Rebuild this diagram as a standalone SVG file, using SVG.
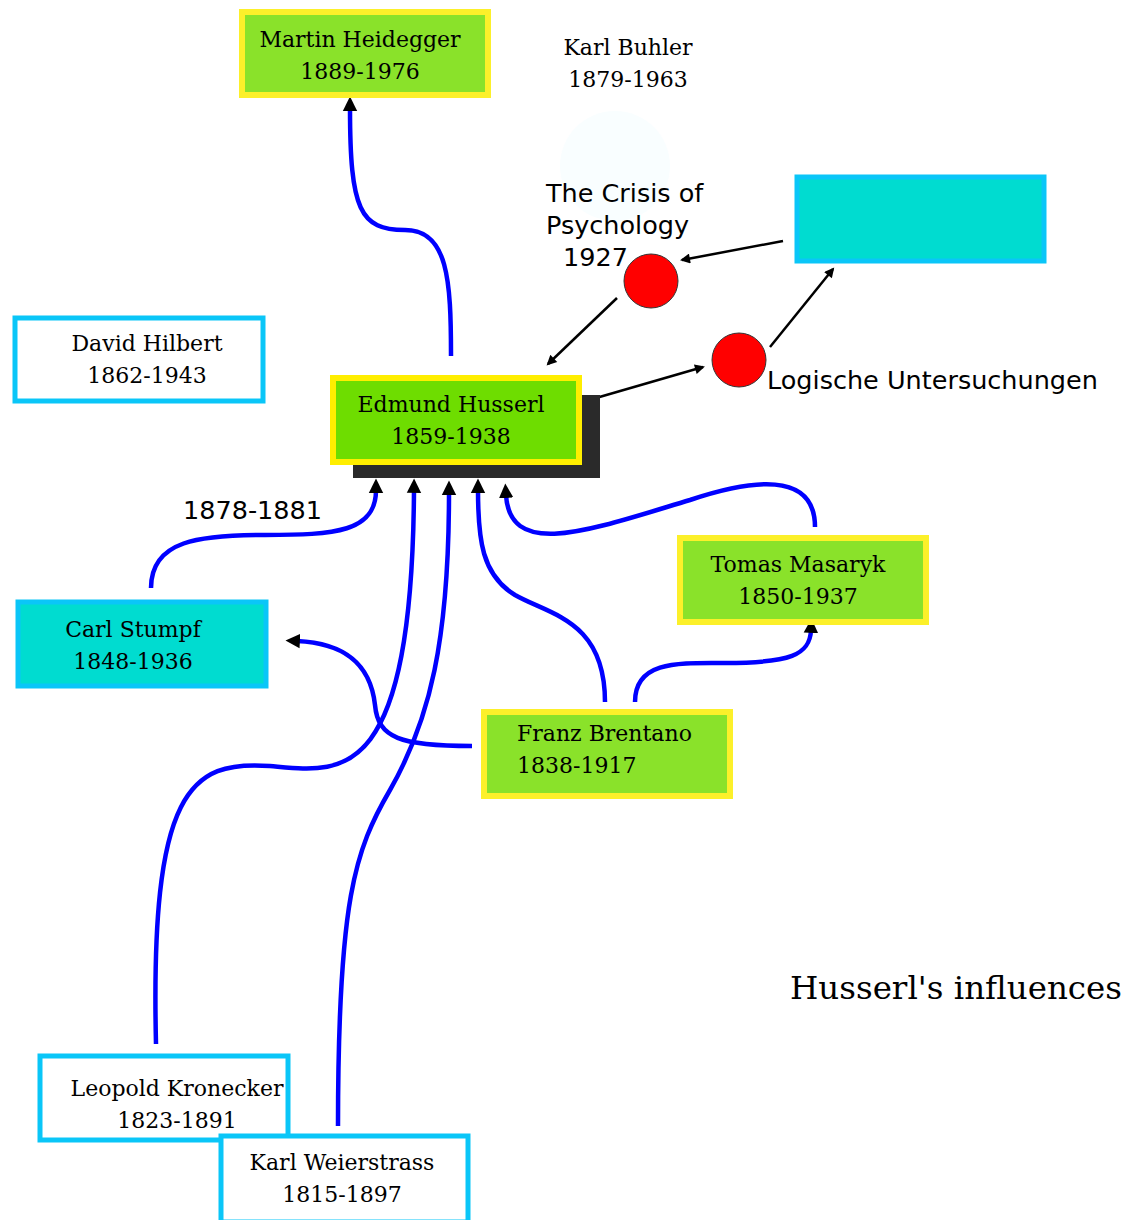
<svg xmlns="http://www.w3.org/2000/svg" width="1128" height="1220" viewBox="0 0 1128 1220">
<style>
.serif{font-family:"DejaVu Serif","Liberation Serif",serif;font-size:22px;fill:#000}
.sans{font-family:"DejaVu Sans","Liberation Sans",sans-serif;font-size:25.5px;fill:#000}
.g{fill:#8ae22a;stroke:#fcf02a;stroke-width:6}
.h{fill:#6edd00;stroke:#ffee00;stroke-width:6}
.c{fill:#00dcd0;stroke:#0ac6f8;stroke-width:5}
.w{fill:#fff;stroke:#0ac6f8;stroke-width:5}
.b{fill:none;stroke:#0000ff;stroke-width:4.5;marker-end:url(#ab)}
.k{fill:none;stroke:#000;stroke-width:2.5;marker-end:url(#ak)}
.r{fill:#ff0000;stroke:#333;stroke-width:1}
</style>
<defs>
<marker id="ab" viewBox="0 0 10 10" refX="2" refY="5" markerWidth="3.2" markerHeight="4" orient="auto" markerUnits="strokeWidth"><path d="M0,0 L10,5 L0,10 z" fill="#000"/></marker>
<marker id="ak" viewBox="0 0 10 10" refX="8" refY="5" markerWidth="5" markerHeight="4" orient="auto" markerUnits="strokeWidth"><path d="M0,0 L10,5 L0,10 z" fill="#000"/></marker>
</defs>
<rect width="1128" height="1220" fill="#fff"/>
<circle cx="615" cy="166" r="55" fill="#f9feff"/>
<g id="connectors">
<path class="b" d="M451,356 C451,280 448,230 405,230 C360,230 350,210 350,108"/>
<path class="b" d="M151,588 C151,540 200,535 265,535 C335,535 376,532 376,490"/>
<path class="b" d="M156,1044 C150,790 190,760 270,766 C340,772 412,790 414,490"/>
<path class="b" d="M338,1126 C338,900 355,850 390,790 C430,720 449,640 449,492"/>
<path class="b" d="M605,702 C605,620 550,615 515,595 C482,575 478,540 478,490"/>
<path class="b" d="M815,527 C815,470 750,480 690,500 C590,530 510,560 506,495"/>
<path class="b" d="M635,702 C635,660 680,663 725,663 C790,663 810,655 811,630"/>
<path class="b" d="M472,746 C400,746 378,738 375,705 C370,660 340,643 297,641"/>
<path class="k" d="M783,241 L682,260"/>
<path class="k" d="M617,298 L548,364"/>
<path class="k" d="M596,398 L703,367"/>
<path class="k" d="M770,347 L833,269"/>
</g>
<g id="heidegger"><rect class="g" x="242" y="12" width="246" height="83"/><text class="serif" text-anchor="middle" x="360" y="47">Martin Heidegger</text><text class="serif" text-anchor="middle" x="360" y="79">1889-1976</text></g>
<g id="buhler"><text class="serif" text-anchor="middle" x="628" y="55">Karl Buhler</text><text class="serif" text-anchor="middle" x="628" y="87">1879-1963</text></g>
<g id="crisis"><text class="sans" x="546" y="202">The Crisis of</text><text class="sans" x="546" y="234">Psychology</text><text class="sans" x="563" y="266">1927</text></g>
<g id="crisis-node"><circle class="r" cx="651" cy="281" r="27"/></g>
<g id="logische-node"><circle class="r" cx="739" cy="360" r="27"/><text class="sans" x="767" y="389">Logische Untersuchungen</text></g>
<g id="cyanbox"><rect class="c" x="797" y="177" width="247" height="84"/></g>
<g id="hilbert"><rect class="w" x="15" y="318" width="248" height="83"/><text class="serif" text-anchor="middle" x="147" y="351">David Hilbert</text><text class="serif" text-anchor="middle" x="147" y="383">1862-1943</text></g>
<g id="husserl"><rect x="353" y="395" width="247" height="83" fill="#2a2a2a"/><rect class="h" x="333" y="378" width="246" height="84"/><text class="serif" text-anchor="middle" x="451" y="412">Edmund Husserl</text><text class="serif" text-anchor="middle" x="451" y="444">1859-1938</text></g>
<g id="label1878"><text class="sans" x="183" y="519">1878-1881</text></g>
<g id="stumpf"><rect class="c" x="18" y="602" width="248" height="84"/><text class="serif" text-anchor="middle" x="133" y="637">Carl Stumpf</text><text class="serif" text-anchor="middle" x="133" y="669">1848-1936</text></g>
<g id="masaryk"><rect class="g" x="680" y="538" width="246" height="84"/><text class="serif" text-anchor="middle" x="798" y="572">Tomas Masaryk</text><text class="serif" text-anchor="middle" x="798" y="604">1850-1937</text></g>
<g id="brentano"><rect class="g" x="484" y="712" width="246" height="84"/><text class="serif" x="517" y="741">Franz Brentano</text><text class="serif" x="517" y="773">1838-1917</text></g>
<g id="kronecker"><rect class="w" x="40" y="1056" width="248" height="84"/><text class="serif" text-anchor="middle" x="177" y="1096">Leopold Kronecker</text><text class="serif" text-anchor="middle" x="177" y="1128">1823-1891</text></g>
<g id="weierstrass"><rect class="w" x="221" y="1136" width="247" height="86"/><text class="serif" text-anchor="middle" x="342" y="1170">Karl Weierstrass</text><text class="serif" text-anchor="middle" x="342" y="1202">1815-1897</text></g>
<g id="title"><text class="serif" x="790" y="999" style="font-size:32.5px">Husserl's influences</text></g>
</svg>
